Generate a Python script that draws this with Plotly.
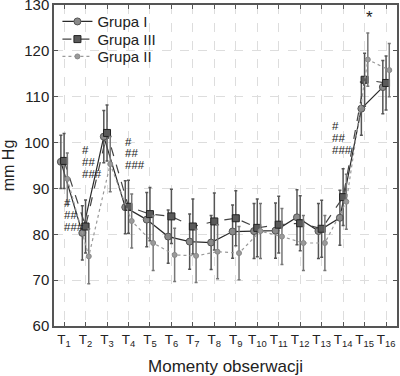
import plotly.graph_objects as go

moments = [f"T<sub>{i}</sub>" for i in range(1, 17)]
idx = list(range(1, 17))

g1_mean = [95.8, 80.3, 101.3, 85.9, 83.2, 79.5, 78.4, 78.2, 80.6, 80.7, 80.8, 83.7, 80.7, 83.6, 107.4, 112.1]
g1_sd = [5.8, 5.9, 5.7, 5.8, 5.9, 5.8, 6.0, 5.9, 5.8, 6.0, 6.0, 6.0, 6.0, 6.0, 5.8, 5.8]
g3_mean = [96.0, 81.7, 102.1, 86.0, 84.4, 83.9, 81.7, 82.8, 83.5, 81.4, 82.1, 82.4, 81.2, 88.1, 113.7, 113.0]
g3_sd = [6.0, 5.8, 6.1, 5.8, 5.8, 5.9, 6.0, 6.2, 6.0, 6.3, 6.2, 6.0, 6.2, 6.2, 5.8, 5.9]
g2_mean = [92.1, 75.2, 95.3, 82.9, 78.1, 75.5, 75.3, 76.2, 75.9, 80.7, 79.5, 78.1, 78.1, 87.1, 118.1, 115.8]
g2_sd = [5.6, 6.0, 6.0, 5.9, 6.0, 5.8, 5.8, 5.9, 5.8, 6.0, 6.1, 6.0, 6.0, 6.0, 5.8, 5.8]

# annotation marks: (x position, y value, text)
hash_groups = [(0.92, [86.8, 84.2, 81.6]), (1.72, [98.4, 95.8, 93.2]),
               (3.74, [100.2, 97.7, 95.1]), (13.37, [103.6, 101.0, 98.4])]
hash_texts = ["#", "##", "###"]
star = (15.23, 127.3, "*")

font = "Arial, Liberation Sans, sans-serif"
fig = go.Figure()

def add(name, mean, sd, off, dash, lcolor, msym, msize, mfill, mline, ecolor, leg):
    fig.add_trace(go.Scatter(
        x=[i + off for i in idx], y=mean, name=name, mode="lines+markers", legend=leg,
        line=dict(color=lcolor, width=1.2, dash=dash),
        marker=dict(symbol=msym, size=msize, color=mfill, line=dict(color=mline, width=1)),
        error_y=dict(type="data", array=sd, visible=True, color=ecolor, thickness=1.5, width=1.5),
    ))

add("Grupa I", g1_mean, g1_sd, -0.15, "solid", "#2a2a2a", "circle", 7, "#8a8a8a", "#555555", "#555555", "legend")
add("Grupa III", g3_mean, g3_sd, 0.0, "dash", "#444444", "square", 7, "#5a5a5a", "#222222", "#555555", "legend2")
add("Grupa II", g2_mean, g2_sd, 0.15, "dot", "#9a9a9a", "circle", 5, "#9a9a9a", "#888888", "#777777", "legend3")

ann = []
for x, ys in hash_groups:
    for y, t in zip(ys, hash_texts):
        ann.append(dict(x=x, y=y, xref="x", yref="y", text=t, showarrow=False,
                        xanchor="left", yanchor="middle",
                        font=dict(family=font, size=11.5, color="#1e1e1e")))
ann.append(dict(x=star[0], y=star[1], xref="x", yref="y", text=star[2], showarrow=False,
                xanchor="center", yanchor="middle",
                font=dict(family=font, size=17, color="#1e1e1e")))

def leg(y):
    return dict(x=0.01, y=y, xanchor="left", yanchor="middle",
                bgcolor="rgba(0,0,0,0)", font=dict(size=15), itemwidth=30)

fig.update_layout(
    width=400, height=376,
    margin=dict(l=54, r=3, t=5, b=50),
    paper_bgcolor="white", plot_bgcolor="white",
    font=dict(family=font, size=14, color="#222222"),
    showlegend=True,
    legend=leg(0.948), legend2=leg(0.893), legend3=leg(0.839),
    annotations=ann,
    xaxis=dict(range=[0.53, 16.51], tickvals=idx, ticktext=moments, tickangle=0,
               automargin=False,
               showgrid=True, gridcolor="#dddddd", griddash="dash", gridwidth=1,
               showline=True, linecolor="#555555", linewidth=1.5, mirror="ticks",
               ticks="inside", ticklen=4, tickcolor="#555555",
               zeroline=False, tickfont=dict(size=13.5),
               title=dict(text="Momenty obserwacji", font=dict(size=17), standoff=12)),
    yaxis=dict(range=[60, 130], tickvals=[60, 70, 80, 90, 100, 110, 120, 130],
               automargin=False, ticklabeloverflow="allow",
               showgrid=True, gridcolor="#dddddd", griddash="dash", gridwidth=1,
               showline=True, linecolor="#555555", linewidth=1.5, mirror="ticks",
               ticks="inside", ticklen=4, tickcolor="#555555",
               zeroline=False, tickfont=dict(size=15),
               title=dict(text="mm Hg", font=dict(size=16), standoff=8)),
)

fig.write_html("out.html", config={"displayModeBar": False})
with open("out.html", "r", encoding="utf-8") as f:
    html = f.read()
html = html.replace("<head>", "<head><style>html,body{margin:0;padding:0;overflow:hidden;}</style>", 1)
with open("out.html", "w", encoding="utf-8") as f:
    f.write(html)
